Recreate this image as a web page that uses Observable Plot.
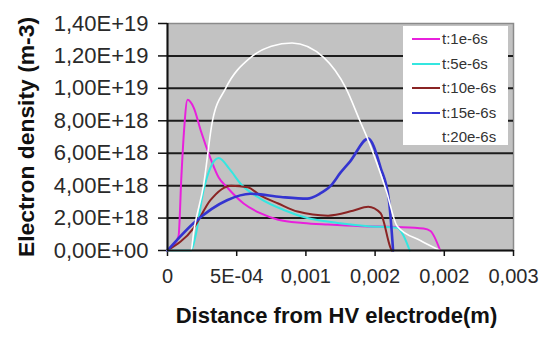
<!DOCTYPE html>
<html>
<head>
<meta charset="utf-8">
<script src="https://cdn.jsdelivr.net/npm/d3@7"></script>
<script src="https://cdn.jsdelivr.net/npm/@observablehq/plot@0.6"></script>
<style>
  html, body { margin: 0; padding: 0; background: #fff; }
  #wrap { position: relative; width: 539px; height: 338px; font-family: "Liberation Sans", Arial, sans-serif; }
  #legend { position: absolute; left: 403px; top: 26px; width: 105px; height: 119px; background: #fff; }
  .item { position: absolute; left: 0; height: 20px; width: 105px; font-size: 15px; color: #333; }
  .item .sw { position: absolute; left: 9px; top: 9px; width: 28px; height: 0; border-top: 2px solid; }
  .item .lb { position: absolute; left: 39px; top: 1px; }
</style>
</head>
<body>
<div id="wrap"><div id="chart"></div><div id="legend"></div></div>
<script>
// ---- data ----
const xTicks = [0, 0.0005, 0.001, 0.0015, 0.002, 0.0025];
const xTickLabels = ["0", "5E-04", "0,001", "0,002", "0,002", "0,003"];
const yTicks = [0, 2e18, 4e18, 6e18, 8e18, 1e19, 1.2e19, 1.4e19];

const seriesNames = ["t:1e-6s", "t:5e-6s", "t:10e-6s", "t:15e-6s", "t:20e-6s"];
const seriesColors = ["#e820dc", "#34e6e0", "#8a2424", "#3434d0", "#ffffff"];

const t1 = [[0,0],[0.00004,0.3e18],[0.00008,0.9e18],[0.0001,4.5e18],[0.000118,7.2e18],[0.000145,9.3e18],
  [0.00019,8.8e18],[0.00024,7.4e18],[0.00031,5.7e18],[0.00037,4.5e18],[0.00043,3.9e18],[0.00055,2.9e18],
  [0.00067,2.3e18],[0.0008,1.9e18],[0.00098,1.7e18],[0.00116,1.6e18],[0.0014,1.5e18],[0.00166,1.45e18],
  [0.00185,1.35e18],[0.0019,1.2e18],[0.00197,0]];
const t5 = [[0,0],[0.00017,0],[0.0002,0.8e18],[0.00026,3.7e18],[0.00031,5.1e18],[0.00037,5.7e18],
  [0.00045,5.0e18],[0.00053,4.1e18],[0.00067,3.2e18],[0.00084,2.5e18],[0.00101,2.0e18],[0.00123,1.7e18],
  [0.00145,1.5e18],[0.00166,1.4e18],[0.0017,1.0e18],[0.00175,0]];
const t10 = [[0,0],[0.00019,1.4e18],[0.00031,3.1e18],[0.00046,4.0e18],[0.00058,3.9e18],[0.00067,3.4e18],
  [0.0008,2.9e18],[0.00094,2.4e18],[0.00116,2.15e18],[0.00134,2.45e18],[0.00145,2.7e18],[0.00154,2.3e18],
  [0.00161,0.2e18],[0.00162,0]];
const t15 = [[0,0],[0.00019,1.7e18],[0.00043,3.1e18],[0.0006,3.5e18],[0.00082,3.3e18],[0.00101,3.2e18],
  [0.0011,3.5e18],[0.00118,4.0e18],[0.00125,4.8e18],[0.00132,5.5e18],[0.00145,6.9e18],[0.00154,5.1e18],
  [0.0016,3.1e18],[0.00163,0]];
const t20 = [[0,0],[0.00017,0],[0.00019,1.2e18],[0.00026,4.0e18],[0.000325,8.0e18],[0.00042,10.0e18],
  [0.0006,11.9e18],[0.00075,12.6e18],[0.0009,12.8e18],[0.00113,11.9e18],[0.00129,10.0e18],[0.00139,8.0e18],
  [0.00145,6.8e18],[0.00158,3.7e18],[0.00166,1.5e18],[0.00183,0.6e18],[0.00197,0]];

const seriesData = [t1, t5, t10, t15, t20];
const yTitle = "Electron density (m-3)";
const xTitle = "Distance from HV electrode(m)";

// ---- chart ----
const fmtE = d => {
  const [m, e] = d3.format(".2e")(d).split("e");
  return m.replace(".", ",") + "E" + e[0] + e.slice(1).padStart(2, "0");
};
const rows = seriesData.flatMap((pts, i) => pts.map(([x, y]) => ({x, y, s: seriesNames[i]})));
const font = "'Liberation Sans', Arial, sans-serif";

const lineMarks = seriesNames.map((name, i) =>
  Plot.line(rows.filter(r => r.s === name), {
    x: "x", y: "y", stroke: seriesColors[i],
    strokeWidth: i === 3 ? 2.6 : (i === 4 ? 1.6 : 2), curve: "monotone-x"
  })
);

const chart = Plot.plot({
  width: 539, height: 338,
  marginLeft: 167, marginRight: 26, marginTop: 23, marginBottom: 88,
  style: {fontFamily: font, fontSize: "22px", background: "#fff", color: "#2a2a2a", overflow: "visible"},
  x: {domain: [0, 0.0025]},
  y: {domain: [0, 1.4e19]},
  marks: [
    Plot.frame({fill: "#c2c2c2", stroke: "#8a8a8a", strokeWidth: 1.5}),
    Plot.ruleY(yTicks.slice(1, -1), {stroke: "#1c1c1c", strokeWidth: 2}),
    Plot.axisY({ticks: yTicks, tickFormat: fmtE, tickSize: 9, tickPadding: 10, label: null, stroke: "#111", strokeWidth: 1.5}),
    Plot.axisX({ticks: xTicks, tickFormat: (d, i) => xTickLabels[i], tickSize: 6, tickPadding: 12, label: null,
      fontSize: 20, stroke: "#111", strokeWidth: 1.5}),
    ...lineMarks,
    Plot.ruleX([0], {stroke: "#111", strokeWidth: 2}),
    Plot.ruleY([0], {stroke: "#111", strokeWidth: 2}),
    Plot.text([xTitle], {frameAnchor: "bottom", dy: 72, dx: -4,
      fontWeight: "bold", fontSize: 22, fill: "#111"})
  ]
});
document.getElementById("chart").appendChild(chart);

// rotated y-axis title
d3.select(chart).append("text")
  .attr("transform", "translate(26,137) rotate(-90)")
  .attr("text-anchor", "middle")
  .attr("dominant-baseline", "central")
  .attr("font-family", font)
  .attr("font-size", 22)
  .attr("font-weight", "bold")
  .attr("fill", "#111")
  .attr("textLength", 240)
  .attr("lengthAdjust", "spacingAndGlyphs")
  .text(yTitle);

// ---- legend ----
const legend = document.getElementById("legend");
seriesNames.forEach((name, i) => {
  const it = document.createElement("div");
  it.className = "item";
  it.style.top = (3 + i * 24.6) + "px";
  it.innerHTML = `<span class="sw" style="border-color:${seriesColors[i]}"></span><span class="lb">${name}</span>`;
  legend.appendChild(it);
});
</script>
</body>
</html>
